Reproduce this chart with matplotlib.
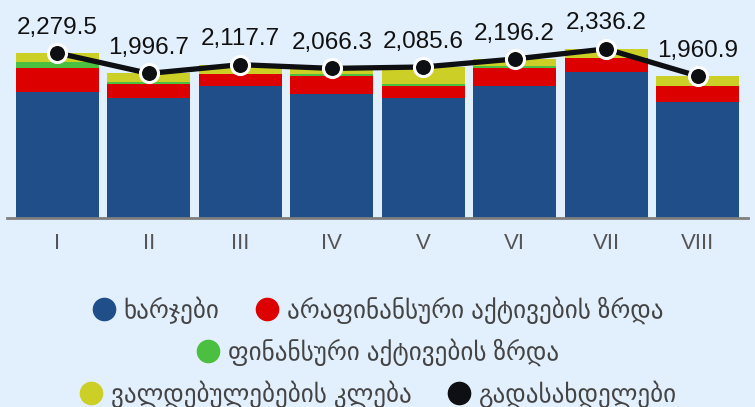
import matplotlib
matplotlib.use("Agg")
import matplotlib.pyplot as plt
from matplotlib.lines import Line2D
import numpy as np

plt.rcParams['font.family'] = ['Liberation Sans', 'DejaVu Sans']

categories = ["I", "II", "III", "IV", "V", "VI", "VII", "VIII"]
expenses = [1744, 1660, 1827, 1716, 1660, 1827, 2021, 1605]
nonfin_assets = [328, 194, 162, 245, 162, 245, 186, 218]
fin_assets = [83, 28, 0, 28, 28, 32, 0, 0]
liab_decrease = [124.5, 114.7, 128.7, 77.3, 235.6, 92.2, 129.2, 137.9]
payments = [2279.5, 1996.7, 2117.7, 2066.3, 2085.6, 2196.2, 2336.2, 1960.9]

labels = ["ხარჯები", "არაფინანსური აქტივების ზრდა", "ფინანსური აქტივების ზრდა",
          "ვალდებულებების კლება", "გადასახდელები"]
colors = ["#1F4E89", "#DD0000", "#4BBF3F", "#CCCF26", "#0D0F12"]
bg = "#E2EFFC"

fig = plt.figure(figsize=(7.55, 4.07), dpi=100, facecolor=bg)
ax = fig.add_axes([7/755, (407-217.5)/407, 740.7/755, 217.5/407])
ax.set_facecolor(bg)

x = np.arange(len(categories))
bottom = np.zeros(len(categories))
for vals, c in zip([expenses, nonfin_assets, fin_assets, liab_decrease], colors[:4]):
    ax.bar(x, vals, width=0.907, bottom=bottom, color=c, linewidth=0, zorder=2)
    bottom += np.array(vals)

ax.plot(x, payments, color=colors[4], lw=3.8, marker='o', markersize=13,
        markerfacecolor=colors[4], markeredgecolor='white', markeredgewidth=2.2,
        zorder=4, solid_joinstyle='round')
for xi, v in zip(x, payments):
    ax.annotate(f"{v:,.1f}", (xi, v), xytext=(0, 14), textcoords='offset points',
                ha='center', va='baseline', fontsize=17.5, color='#111111', zorder=5)

ax.set_xlim(-0.552, 7.549)
ax.set_ylim(0, 3014)
ax.set_xticks(x)
ax.set_xticklabels(categories, fontsize=16, color='#555555')
ax.tick_params(axis='x', length=0, pad=11)
ax.set_yticks([])
for s in ['top', 'left', 'right']:
    ax.spines[s].set_visible(False)
ax.spines['bottom'].set_color('#7F7F7F')
ax.spines['bottom'].set_linewidth(2)
ax.spines['bottom'].set_zorder(3)

def handle(c):
    return Line2D([], [], marker='o', ls='', color=c, markersize=16)

rows = [([0, 1], 310), ([2], 352), ([3, 4], 394)]
for idx, ypix in rows:
    leg = fig.legend([handle(colors[i]) for i in idx], [labels[i] for i in idx],
                     loc='center', bbox_to_anchor=(0.5, 1 - ypix/407), ncol=len(idx),
                     frameon=False, fontsize=18, labelcolor='#444444',
                     handletextpad=0.3, columnspacing=1.4, handlelength=1.0,
                     borderpad=0, borderaxespad=0)

fig.savefig("out.png", dpi=100, facecolor=bg)
